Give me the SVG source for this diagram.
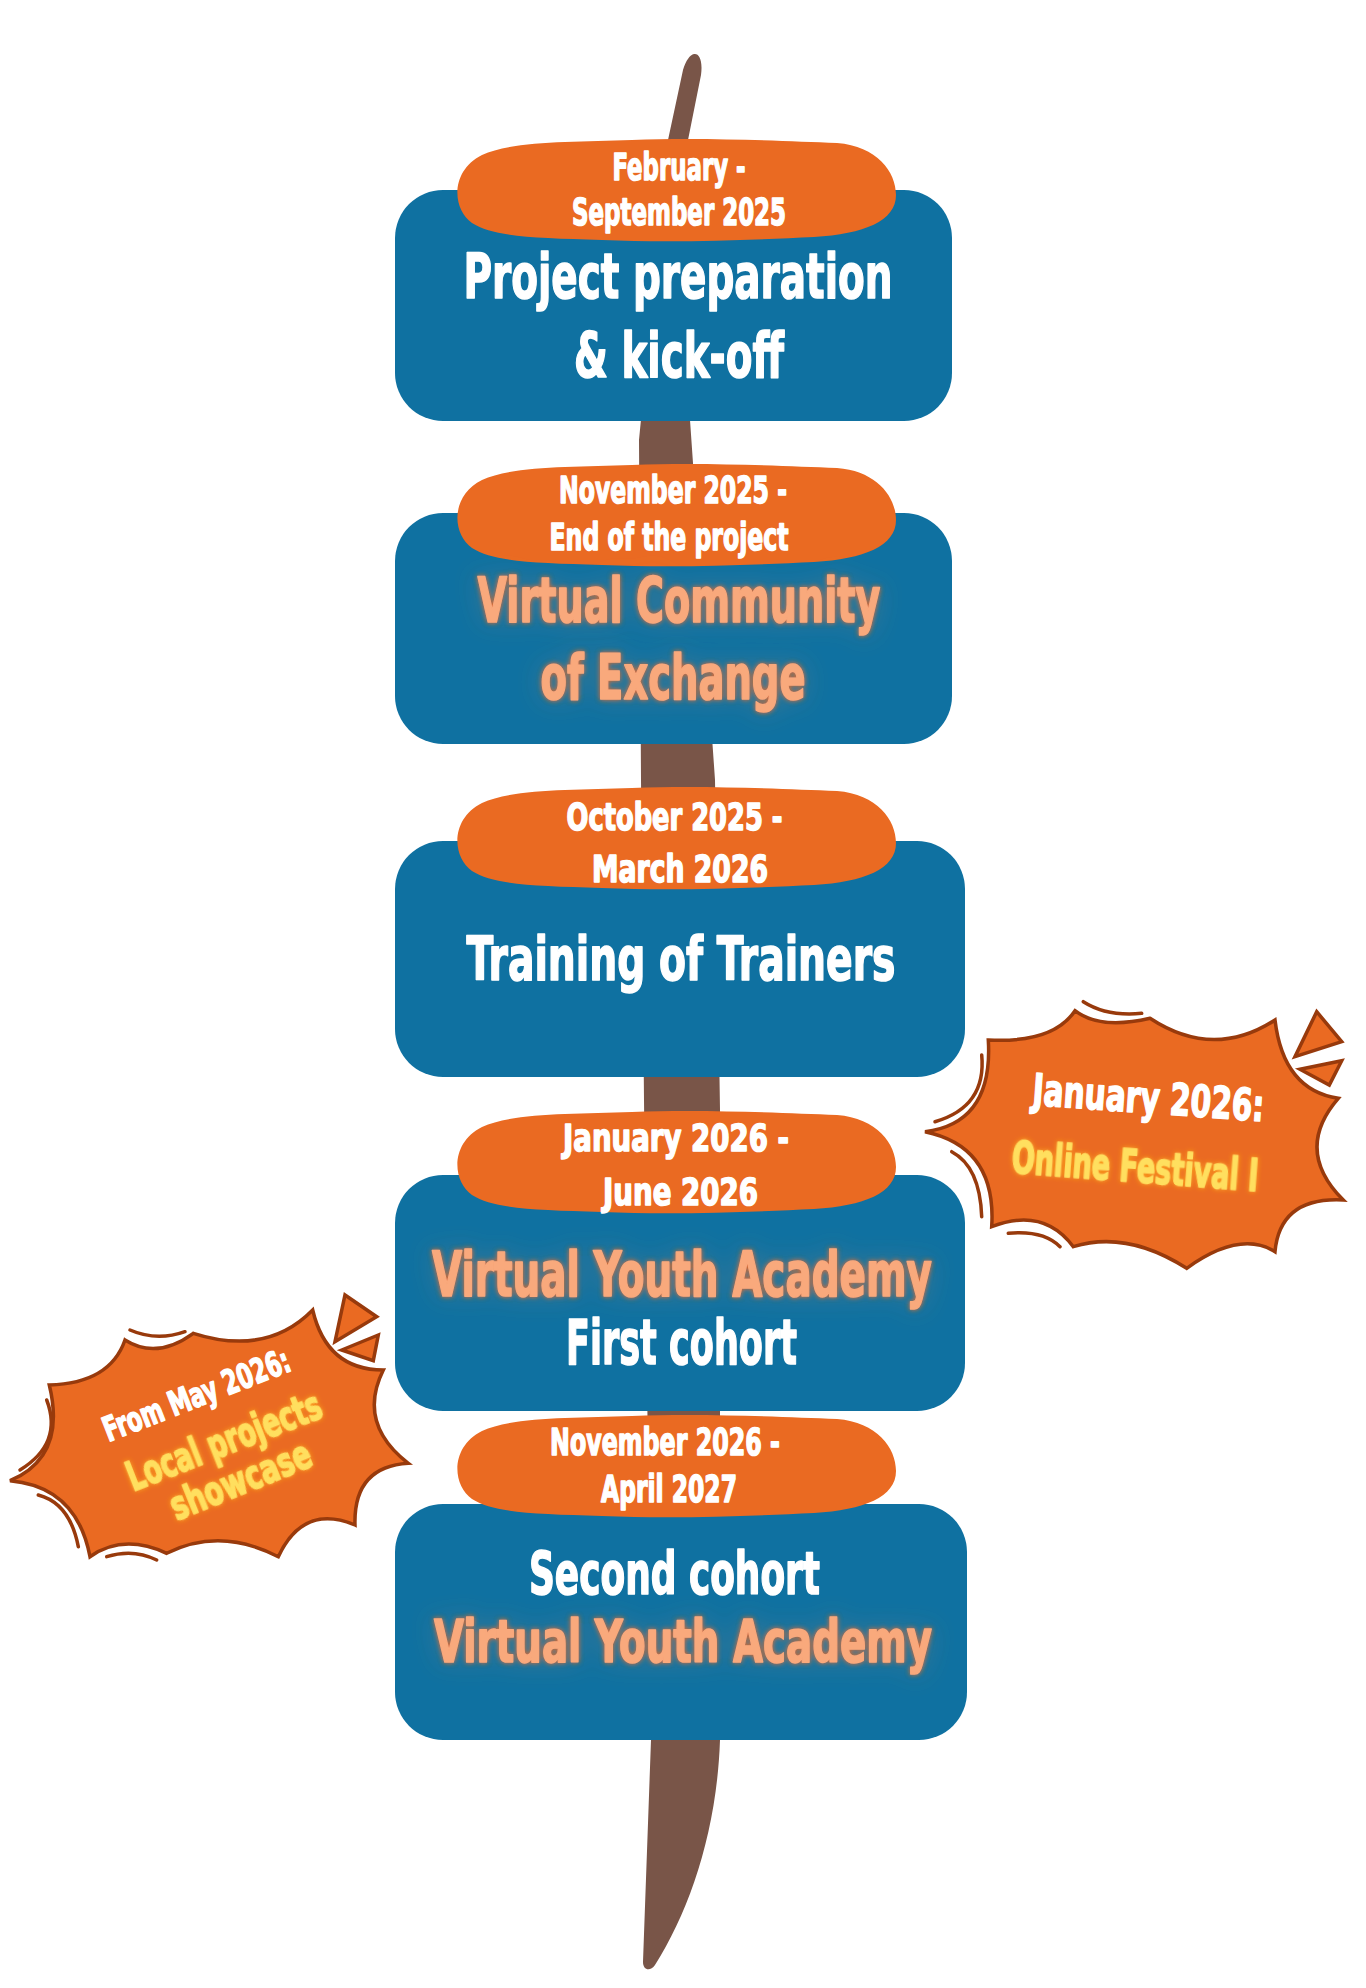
<svg xmlns="http://www.w3.org/2000/svg" xmlns:xlink="http://www.w3.org/1999/xlink" width="1366" height="1988" viewBox="0 0 1366 1988">
<defs>
<style>
.box{fill:#0f71a1}
.lbl{fill:#ea6a22}
.t{font-family:"DejaVu Sans Condensed","DejaVu Sans",sans-serif;font-weight:bold;text-anchor:middle;stroke-width:1.5;stroke-linejoin:round}
.w{fill:#ffffff;stroke:#ffffff}
.pe{fill:#f9a97c;stroke:#f9a97c}
.ye{fill:#ffdf5e;stroke:#ffdf5e}
.burst{fill:#ea6a22;stroke:#983a0c;stroke-width:3.5;stroke-linejoin:miter}
.arc{fill:none;stroke:#983a0c;stroke-width:3.5;stroke-linecap:round}
.tri{fill:#ea6a22;stroke:#983a0c;stroke-width:3.5;stroke-linejoin:miter}
</style>
<path id="blob" d="M 30 18 C 60 4, 120 5, 180 3 C 250 0, 330 4, 385 6 C 425 9, 444 35, 444 58 C 444 84, 412 97, 362 100 C 300 103, 222 106, 150 103 C 82 101, 42 100, 20 86 C 0 72, -2 34, 30 18 Z"/>
<filter id="glow" x="-15%" y="-60%" width="130%" height="220%">
<feGaussianBlur in="SourceAlpha" stdDeviation="2.5" result="b"/>
<feFlood flood-color="#ff6a1a" flood-opacity="0.95"/>
<feComposite in2="b" operator="in" result="g"/>
<feGaussianBlur in="SourceAlpha" stdDeviation="12" result="b2"/>
<feFlood flood-color="#f4935a" flood-opacity="0.25"/>
<feComposite in2="b2" operator="in" result="g2"/>
<feMerge><feMergeNode in="g2"/><feMergeNode in="g"/><feMergeNode in="SourceGraphic"/></feMerge>
</filter>
<filter id="glowY" x="-15%" y="-60%" width="130%" height="220%">
<feGaussianBlur in="SourceAlpha" stdDeviation="2.5" result="b"/>
<feFlood flood-color="#ffab1a" flood-opacity="0.95"/>
<feComposite in2="b" operator="in" result="g"/>
<feMerge><feMergeNode in="g"/><feMergeNode in="SourceGraphic"/></feMerge>
</filter>
</defs>
<rect x="0" y="0" width="1366" height="1988" fill="#ffffff"/>

<g id="pole">
<path fill="#795548" d="M 694 54 C 699 53, 703 60, 701 75 L 688 140 L 690 420 L 715 780 L 720 1110 L 720 1740 C 717 1830, 690 1910, 655 1965 C 650 1972, 643 1970, 643 1962 L 651 1740 L 644 1100 L 641 780 L 639 440 L 668 140 L 683 70 C 686 60, 690 55, 694 54 Z"/>
</g>

<g id="connectors"></g>

<g id="node1">
<rect class="box" x="395" y="190" width="557" height="231" rx="48"/>
<use xlink:href="#blob" class="lbl" transform="translate(452,137)"/>
<text class="t w" x="679" y="180" font-size="37" textLength="133" lengthAdjust="spacingAndGlyphs">February -</text>
<text class="t w" x="679" y="225" font-size="37" textLength="214" lengthAdjust="spacingAndGlyphs">September 2025</text>
<text class="t w" x="678" y="298" font-size="62" textLength="429" lengthAdjust="spacingAndGlyphs">Project preparation</text>
<text class="t w" x="679" y="377" font-size="62" textLength="210" lengthAdjust="spacingAndGlyphs">&amp; kick-off</text>
</g>

<g id="node2">
<rect class="box" x="395" y="513" width="557" height="231" rx="48"/>
<use xlink:href="#blob" class="lbl" transform="translate(452,462)"/>
<text class="t w" x="673" y="503" font-size="37" textLength="228" lengthAdjust="spacingAndGlyphs">November 2025 -</text>
<text class="t w" x="669" y="550" font-size="37" textLength="239" lengthAdjust="spacingAndGlyphs">End of the project</text>
<text class="t pe" x="679" y="622" font-size="63" textLength="403" lengthAdjust="spacingAndGlyphs" filter="url(#glow)">Virtual Community</text>
<text class="t pe" x="673" y="699" font-size="63" textLength="265" lengthAdjust="spacingAndGlyphs" filter="url(#glow)">of Exchange</text>
</g>

<g id="node3">
<rect class="box" x="395" y="841" width="570" height="236" rx="48"/>
<use xlink:href="#blob" class="lbl" transform="translate(452,785)"/>
<text class="t w" x="674.5" y="830" font-size="37" textLength="216" lengthAdjust="spacingAndGlyphs">October 2025 -</text>
<text class="t w" x="680" y="882" font-size="37" textLength="176" lengthAdjust="spacingAndGlyphs">March 2026</text>
<text class="t w" x="681" y="980" font-size="60" textLength="429" lengthAdjust="spacingAndGlyphs">Training of Trainers</text>
</g>

<g id="node4">
<rect class="box" x="395" y="1175" width="570" height="236" rx="48"/>
<use xlink:href="#blob" class="lbl" transform="translate(452,1109)"/>
<text class="t w" x="676" y="1151" font-size="37" textLength="226" lengthAdjust="spacingAndGlyphs">January 2026 -</text>
<text class="t w" x="680.5" y="1205" font-size="37" textLength="155" lengthAdjust="spacingAndGlyphs">June 2026</text>
<text class="t pe" x="682" y="1296" font-size="63" textLength="500" lengthAdjust="spacingAndGlyphs" filter="url(#glow)">Virtual Youth Academy</text>
<text class="t w" x="681.5" y="1364" font-size="62" textLength="231" lengthAdjust="spacingAndGlyphs">First cohort</text>
</g>

<g id="node5">
<rect class="box" x="395" y="1504" width="572" height="236" rx="48"/>
<use xlink:href="#blob" class="lbl" transform="translate(452,1413)"/>
<text class="t w" x="665" y="1455" font-size="37" textLength="230" lengthAdjust="spacingAndGlyphs">November 2026 -</text>
<text class="t w" x="669" y="1502" font-size="37" textLength="136" lengthAdjust="spacingAndGlyphs">April 2027</text>
<text class="t w" x="674.5" y="1594" font-size="58" textLength="291" lengthAdjust="spacingAndGlyphs">Second cohort</text>
<text class="t pe" x="683" y="1662" font-size="58" textLength="498" lengthAdjust="spacingAndGlyphs" filter="url(#glow)">Virtual Youth Academy</text>
</g>

<g id="burst-right">
<path class="burst" d="M 925 1131.7 Q 993.3 1123.3 988.3 1040 Q 1053.3 1043.3 1075 1010.7 Q 1100 1030 1150 1018.3 Q 1213.3 1060 1275 1020 Q 1283.3 1090 1338.3 1098.3 Q 1293.3 1150 1343.3 1200 Q 1280 1196.7 1275 1251.7 Q 1240 1230 1186.7 1268.3 Q 1126.7 1230 1073.3 1246.7 Q 1043.3 1206.7 991.7 1226.7 Q 996.7 1146.7 925 1131.7 Z"/>
<path class="arc" d="M 1083.3 1001.7 Q 1106.7 1016.7 1141.7 1013.3"/>
<path class="arc" d="M 981.7 1055 Q 986.7 1106.7 935 1121.7"/>
<path class="arc" d="M 951.7 1151.7 Q 980 1166.7 981.7 1216.7"/>
<path class="arc" d="M 1008.3 1233.3 Q 1043.3 1230 1060 1246.7"/>
<polygon class="tri" points="1316.7,1011.7 1341.7,1041.7 1295,1056.7"/>
<polygon class="tri" points="1300,1069.3 1341.7,1060.7 1329.3,1085"/>
<text class="t w" x="1147.5" y="1113" font-size="44" textLength="232" lengthAdjust="spacingAndGlyphs" transform="rotate(4.1 1147.5 1113)">January 2026:</text>
<text class="t ye" x="1134" y="1182" font-size="44" textLength="247" lengthAdjust="spacingAndGlyphs" transform="rotate(4.3 1134 1182)" filter="url(#glowY)">Online Festival I</text>
</g>

<g id="burst-left">
<path class="burst" d="M 10 1480.7 Q 66.7 1456.7 49.3 1385 Q 110 1383.3 125 1340 Q 156.7 1360 193.3 1333.3 Q 266.7 1356.7 312.7 1310 Q 326.7 1370 383.3 1370 Q 356.7 1423.3 408.3 1463.3 Q 353.3 1466.7 355 1525 Q 303.3 1503.3 278.3 1556.7 Q 220 1526.7 166.7 1553.3 Q 123.3 1533.3 90 1556.7 Q 76.7 1486.7 10 1480.7 Z"/>
<path class="arc" d="M 130 1330 Q 156.7 1341.7 185 1331.7"/>
<path class="arc" d="M 46.7 1400 Q 63.3 1443.3 20 1470"/>
<path class="arc" d="M 38.3 1495 Q 70 1503.3 78.3 1546.7"/>
<path class="arc" d="M 106.7 1556.7 Q 133.3 1548.3 156.7 1560"/>
<polygon class="tri" points="345,1295 376.7,1316.7 335,1341.7"/>
<polygon class="tri" points="341.7,1350 378.3,1335 373.3,1360.7"/>
<text class="t w" x="200.7" y="1406" font-size="34" textLength="198" lengthAdjust="spacingAndGlyphs" transform="rotate(-21.3 200.7 1406)">From May 2026:</text>
<text class="t ye" x="229" y="1454" font-size="40" textLength="206" lengthAdjust="spacingAndGlyphs" transform="rotate(-21.4 229 1454)" filter="url(#glowY)">Local projects</text>
<text class="t ye" x="245.7" y="1493" font-size="40" textLength="149" lengthAdjust="spacingAndGlyphs" transform="rotate(-22 245.7 1493)" filter="url(#glowY)">showcase</text>
</g>
</svg>
